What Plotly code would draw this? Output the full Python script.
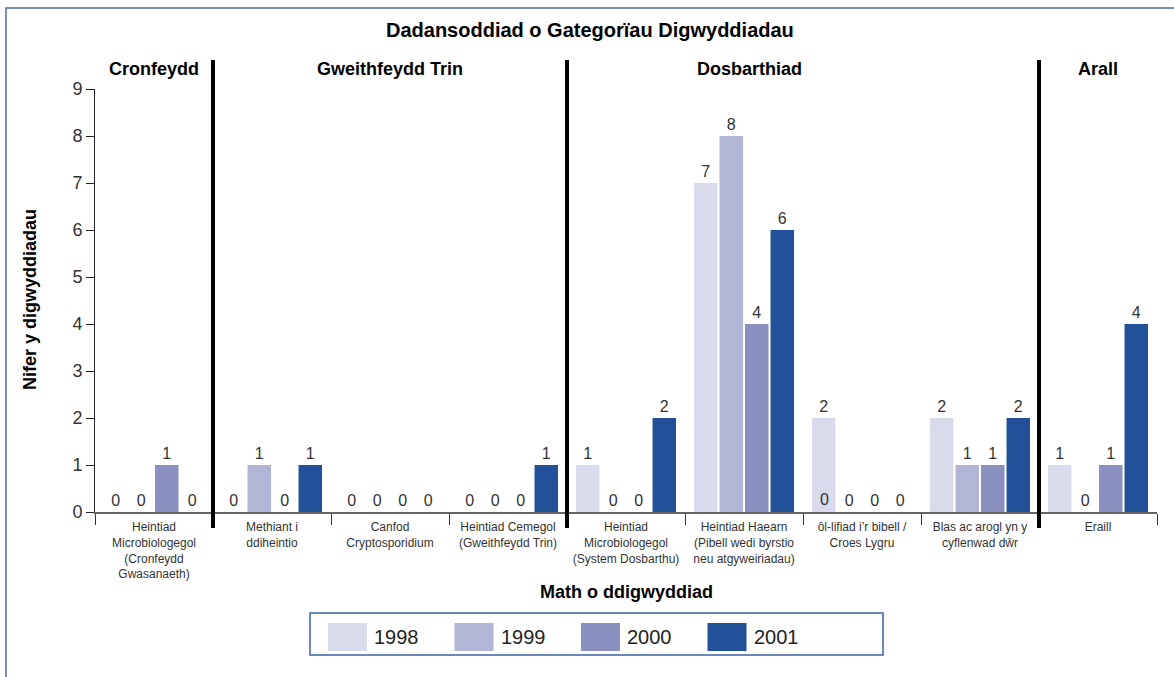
import plotly.graph_objects as go

categories = [
    "Heintiad<br>Microbiologegol<br>(Cronfeydd<br>Gwasanaeth)",
    "Methiant i<br>ddiheintio",
    "Canfod<br>Cryptosporidium",
    "Heintiad Cemegol<br>(Gweithfeydd Trin)",
    "Heintiad<br>Microbiologegol<br>(System Dosbarthu)",
    "Heintiad Haearn<br>(Pibell wedi byrstio<br>neu atgyweiriadau)",
    "ôl-lifiad i’r bibell /<br>Croes Lygru",
    "Blas ac arogl yn y<br>cyflenwad dŵr",
    "Eraill",
]
years = ["1998", "1999", "2000", "2001"]
v1998 = [0, 0, 0, 0, 1, 7, 2, 2, 1]
v1999 = [0, 1, 0, 0, 0, 8, 0, 1, 0]
v2000 = [1, 0, 0, 0, 0, 4, 0, 1, 1]
v2001 = [0, 1, 0, 1, 2, 6, 0, 2, 4]
series = [v1998, v1999, v2000, v2001]
colors = ["#D9DAEB", "#B1B5D6", "#8A91C0", "#22519A"]

groups = ["Cronfeydd", "Gweithfeydd Trin", "Dosbarthiad", "Arall"]
group_pos = [0, 2, 5.05, 8]
dividers = [0.5, 3.5, 7.5]

FONT = "Liberation Sans, Arial, sans-serif"
PW, PH = 1062, 423  # plot area size in px


def px_x(px):
    return (px - 95) / PW


def px_y(py):
    return (512 - py) / PH


fig = go.Figure()
for name, vals, col in zip(years, series, colors):
    fig.add_trace(go.Bar(
        x=categories, y=vals, name=name,
        marker=dict(color=col, line=dict(width=0)),
        text=[str(v) for v in vals], textposition="outside",
        textfont=dict(size=16, color="#333333", family=FONT),
        cliponaxis=False, showlegend=False,
    ))

annotations = []
# stray "0" label drawn over the 1998 bar in "ôl-lifiad" group (as in original)
annotations.append(dict(x=6, y=0, xref="x", yref="y", text="0", showarrow=False,
                        xshift=-38, yanchor="bottom", xanchor="center", yshift=2,
                        font=dict(size=16, color="#333333", family=FONT)))

shapes = []
# outer frame
shapes.append(dict(type="rect", xref="paper", yref="paper",
                   x0=px_x(6), x1=1.03, y0=-0.45, y1=px_y(8),
                   line=dict(color="#4A6EA9", width=1.5), layer="below"))
# thick dividers
for d in dividers:
    shapes.append(dict(type="line", xref="x", yref="paper", x0=d, x1=d,
                       y0=px_y(528), y1=px_y(60), line=dict(color="black", width=4)))

# legend box
shapes.append(dict(type="rect", xref="paper", yref="paper", x0=px_x(310), x1=px_x(883),
                   y0=px_y(655), y1=px_y(613), line=dict(color="#3D62A5", width=1.5)))
for i, (name, col) in enumerate(zip(years, colors)):
    off = i * 126.5
    shapes.append(dict(type="rect", xref="paper", yref="paper",
                       x0=px_x(328 + off), x1=px_x(367 + off),
                       y0=px_y(651), y1=px_y(623),
                       fillcolor=col, line=dict(width=0)))
    annotations.append(dict(xref="paper", yref="paper", x=px_x(372 + off),
                            y=px_y(637), text=name, showarrow=False,
                            xanchor="left", yanchor="middle",
                            font=dict(size=20, color="#222222", family=FONT)))

# group labels
for g, p in zip(groups, group_pos):
    annotations.append(dict(xref="x", yref="paper", x=p, y=px_y(69),
                            text="<b>" + g + "</b>", showarrow=False,
                            xanchor="center", yanchor="middle",
                            font=dict(size=18, color="black", family=FONT)))
# title
annotations.append(dict(xref="paper", yref="paper", x=px_x(590), y=px_y(30),
                        text="<b>Dadansoddiad o Gategorïau Digwyddiadau</b>", showarrow=False,
                        xanchor="center", yanchor="middle",
                        font=dict(size=20, color="black", family=FONT)))
# axis titles
annotations.append(dict(xref="paper", yref="paper", x=px_x(626), y=px_y(592),
                        text="<b>Math o ddigwyddiad</b>", showarrow=False,
                        xanchor="center", yanchor="middle",
                        font=dict(size=18, color="black", family=FONT)))
annotations.append(dict(xref="paper", yref="paper", x=px_x(30), y=px_y(300),
                        text="<b>Nifer y digwyddiadau</b>", showarrow=False, textangle=-90,
                        xanchor="center", yanchor="middle",
                        font=dict(size=18, color="black", family=FONT)))

fig.update_layout(
    width=1174, height=677,
    margin=dict(l=95, r=17, t=89, b=165),
    paper_bgcolor="white", plot_bgcolor="white",
    barmode="group", bargap=0.135, bargroupgap=0.08,
    font=dict(family=FONT, color="#333333"),
    shapes=shapes, annotations=annotations,
    xaxis=dict(
        type="category", categoryorder="array", categoryarray=categories,
        range=[-0.5, len(categories) - 0.5],
        tickson="boundaries", ticks="outside", ticklen=11, tickcolor="#333333",
        tickfont=dict(size=12, color="#333333", family=FONT),
        ticklabelstandoff=3,
        showline=True, linecolor="#666666", linewidth=2, showgrid=False,
        zeroline=False,
    ),
    yaxis=dict(
        range=[0, 9], dtick=1, ticks="outside", ticklen=8, tickcolor="#222222",
        tickfont=dict(size=18, color="#333333", family=FONT),
        showline=True, linecolor="#222222", linewidth=1, showgrid=False,
        zeroline=False,
    ),
)

fig.write_html("out.html", config={"displayModeBar": False},
               post_script="document.body.style.margin='0';")
